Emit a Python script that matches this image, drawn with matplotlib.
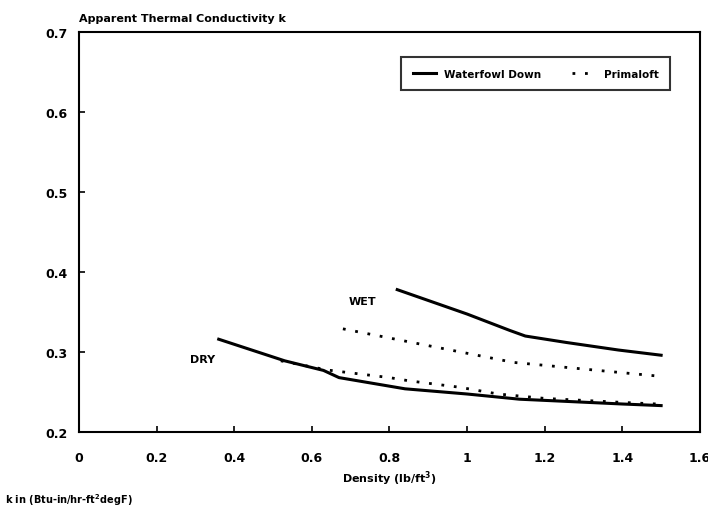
import matplotlib
matplotlib.use("Agg")
import matplotlib.pyplot as plt

# Waterfowl down, dry and wet
down_dry_x = [0.36, 0.53, 0.63, 0.67, 0.84, 1.0, 1.135, 1.40, 1.50]
down_dry_k = [0.316, 0.289, 0.277, 0.268, 0.254, 0.2475, 0.241, 0.235, 0.233]
down_wet_x = [0.82, 1.0, 1.11, 1.15, 1.255, 1.39, 1.50]
down_wet_k = [0.378, 0.3475, 0.327, 0.320, 0.312, 0.3025, 0.296]

# Primaloft, dry and wet
prima_dry_x = [0.52, 0.64, 0.80, 0.85, 0.98, 1.08, 1.20, 1.40, 1.49]
prima_dry_k = [0.289, 0.2775, 0.268, 0.264, 0.256, 0.2475, 0.242, 0.237, 0.235]
prima_wet_x = [0.68, 0.91, 1.12, 1.49]
prima_wet_k = [0.329, 0.307, 0.287, 0.270]

x_ticks = [0, 0.2, 0.4, 0.6, 0.8, 1, 1.2, 1.4, 1.6]
x_labels = ['0', '0.2', '0.4', '0.6', '0.8', '1', '1.2', '1.4', '1.6']
y_ticks = [0.2, 0.3, 0.4, 0.5, 0.6, 0.7]
y_labels = ['0.2', '0.3', '0.4', '0.5', '0.6', '0.7']

plt.rcParams['font.family'] = 'DejaVu Sans'
plt.rcParams['font.weight'] = 'bold'

fig = plt.figure(figsize=(7.08, 5.10), dpi=100)
ax = fig.add_axes([0.1116, 0.151, 0.877, 0.784])

# solid = down, dotted = primaloft
ax.plot(down_dry_x, down_dry_k, color='black', lw=2.2, label='Waterfowl Down')
ax.plot(down_wet_x, down_wet_k, color='black', lw=2.2)
ax.plot(prima_dry_x, prima_dry_k, color='black', lw=2, linestyle=(0, (1, 3.5)), label='Primaloft')
ax.plot(prima_wet_x, prima_wet_k, color='black', lw=2, linestyle=(0, (1, 3.5)))

ax.text(0.319, 0.291, 'DRY', fontsize=8, fontweight='bold', ha='center', va='center')
ax.text(0.731, 0.364, 'WET', fontsize=8, fontweight='bold', ha='center', va='center')

ax.set_xlim(0, 1.6)
ax.set_ylim(0.2, 0.7)
ax.set_xticks(x_ticks)
ax.set_xticklabels(x_labels, fontsize=9, fontweight='bold')
ax.set_yticks(y_ticks)
ax.set_yticklabels(y_labels, fontsize=9, fontweight='bold')
ax.tick_params(direction='in', length=4, width=1.2)
ax.tick_params(axis='x', pad=14)
ax.tick_params(axis='y', pad=8)

for s in ax.spines.values():
    s.set_linewidth(1.5)

ax.set_xlabel('Density (lb/ft$^3$)', fontsize=8, fontweight='bold', labelpad=3)
ax.set_title('Apparent Thermal Conductivity k', fontsize=8, fontweight='bold', loc='left', pad=8)

leg = ax.legend(loc='upper right', bbox_to_anchor=(0.96, 0.95), ncol=2, fontsize=7.5,
                frameon=True, fancybox=False, edgecolor='black', borderpad=1.1,
                handlelength=2.2, columnspacing=3)
leg.get_frame().set_linewidth(1.5)
for t in leg.get_texts():
    t.set_fontweight('bold')

fig.text(0.007, 0.012, 'k in (Btu-in/hr-ft$^2$degF)', fontsize=7, fontweight='bold')

fig.savefig('out.png', dpi=100)
